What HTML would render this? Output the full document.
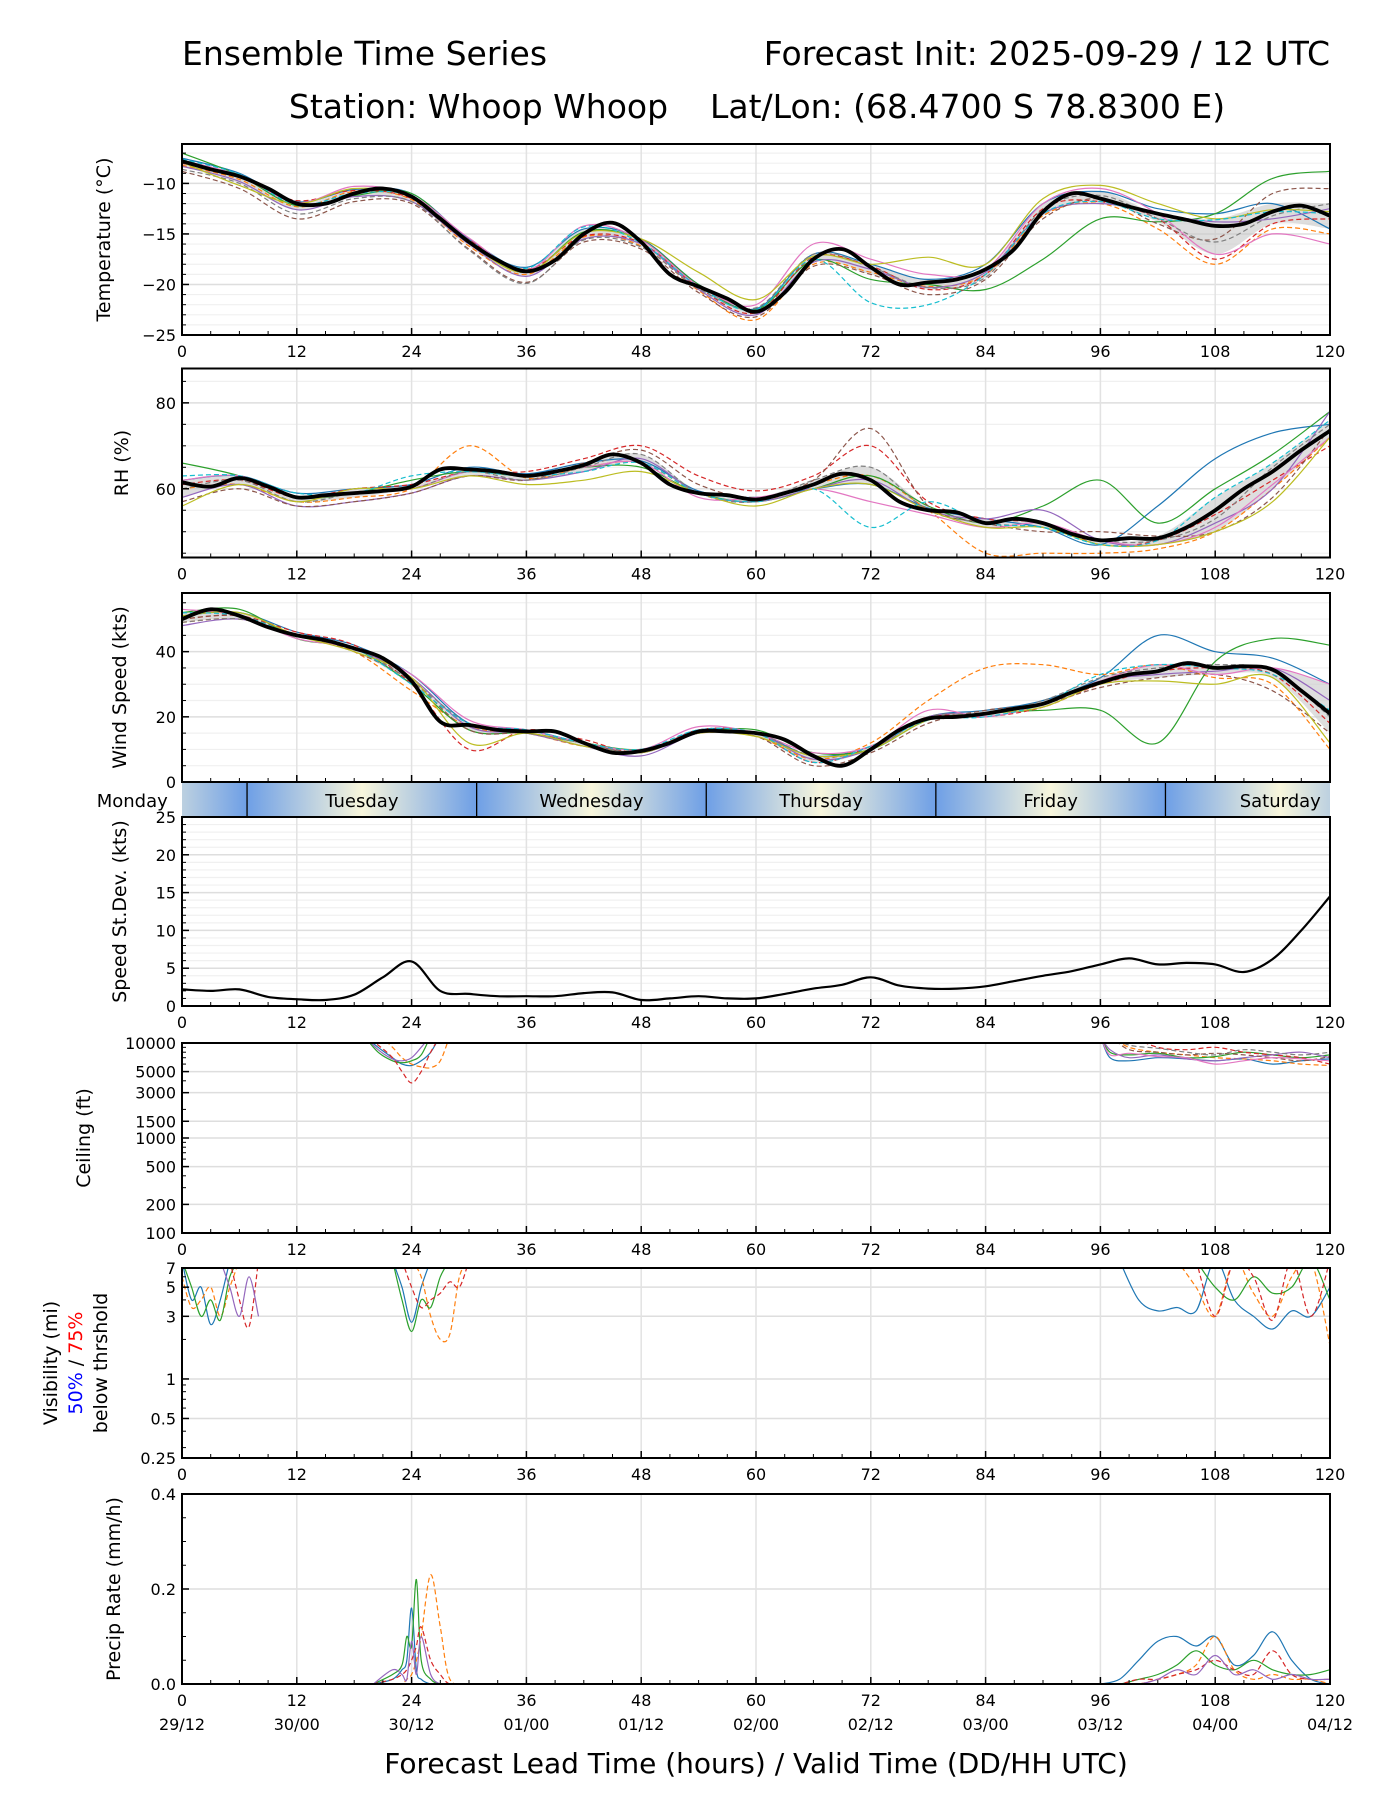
<!DOCTYPE html>
<html><head><meta charset="utf-8"><title>Ensemble Time Series</title>
<style>
html,body{margin:0;padding:0;background:#fff;}
svg{display:block;font-family:"DejaVu Sans","Liberation Sans",sans-serif;}
</style></head>
<body>
<svg id="chart" width="1400" height="1800" viewBox="0 0 1400 1800" xmlns="http://www.w3.org/2000/svg">
<defs>
<linearGradient id="dayGrad" x1="0" x2="1" y1="0" y2="0">
<stop offset="0" stop-color="#6e9fe6"/><stop offset="0.5" stop-color="#f8f6dc"/><stop offset="1" stop-color="#6e9fe6"/>
</linearGradient>
</defs>
<text x="182" y="65" font-size="33">Ensemble Time Series</text>
<text x="1330" y="65" font-size="33" text-anchor="end">Forecast Init: 2025-09-29 / 12 UTC</text>
<text x="757" y="118" font-size="33" text-anchor="middle">Station: Whoop Whoop&#160;&#160;&#160; Lat/Lon: (68.4700 S 78.8300 E)</text>
<g id="root"></g>
</svg>
<script>
// ---------------- data ----------------
const hours3 = [0,3,6,9,12,15,18,21,24,27,30,33,36,39,42,45,48,51,54,57,60,63,66,69,72,75,78,81,84,87,90,93,96,99,102,105,108,111,114,117,120];
const hours6 = [0,6,12,18,24,30,36,42,48,54,60,66,72,78,84,90,96,102,108,114,120];
const xTicks = [0,12,24,36,48,60,72,84,96,108,120];
const dateLabels = ["29/12","30/00","30/12","01/00","01/12","02/00","02/12","03/00","03/12","04/00","04/12"];
const memberColors = ["#1f77b4","#ff7f0e","#2ca02c","#d62728","#9467bd","#8c564b","#e377c2","#7f7f7f","#bcbd22","#17becf"];

const tempMean = [-7.8,-8.6,-9.3,-10.5,-12.0,-12.0,-11.0,-10.5,-11.3,-13.5,-15.8,-17.6,-18.7,-17.6,-15.0,-13.9,-15.8,-19.0,-20.2,-21.4,-22.7,-20.8,-17.5,-16.5,-18.3,-20.0,-19.8,-19.5,-18.5,-16.5,-12.8,-11.0,-11.5,-12.3,-13.0,-13.6,-14.2,-14.0,-12.8,-12.2,-13.2];
const tempM1 = [-7.5,-9.0,-11.8,-10.6,-11.0,-15.5,-18.3,-14.5,-15.5,-20.0,-22.4,-17.0,-18.0,-19.5,-18.0,-12.0,-10.8,-12.5,-13.0,-12.0,-14.5];
const tempM2 = [-8.2,-9.6,-12.3,-10.8,-11.6,-16.2,-19.0,-15.3,-16.2,-20.6,-23.5,-18.0,-18.8,-20.2,-19.0,-13.2,-12.0,-14.5,-18.0,-14.5,-15.0];
const tempM3 = [-7.0,-9.2,-12.2,-11.2,-11.0,-15.8,-18.8,-14.8,-15.6,-20.0,-22.5,-17.6,-19.5,-20.0,-20.5,-17.5,-13.5,-13.8,-13.0,-9.5,-8.8];
const tempM4 = [-8.0,-9.4,-11.7,-10.7,-11.5,-15.6,-18.5,-15.2,-15.9,-20.3,-22.8,-17.3,-18.2,-20.5,-19.0,-12.5,-11.8,-13.5,-17.5,-14.0,-13.5];
const tempM5 = [-8.3,-9.8,-12.6,-11.3,-11.8,-16.0,-19.2,-15.5,-16.0,-20.5,-23.0,-17.8,-18.5,-20.3,-18.8,-13.0,-12.0,-13.0,-13.8,-13.5,-12.5];
const tempM6 = [-8.8,-10.5,-13.5,-11.8,-12.0,-16.5,-19.8,-15.8,-16.5,-20.8,-23.2,-18.2,-19.0,-21.0,-19.5,-13.5,-11.5,-14.0,-15.5,-11.0,-10.5];
const tempM7 = [-7.7,-9.2,-11.9,-10.3,-11.2,-15.4,-18.6,-14.2,-15.6,-20.1,-22.0,-16.0,-17.5,-19.0,-18.5,-12.0,-10.5,-13.0,-17.0,-15.0,-16.0];
const tempM8 = [-8.6,-10.0,-13.0,-11.5,-11.8,-16.6,-19.9,-15.6,-16.3,-20.4,-22.3,-17.0,-18.3,-20.3,-19.3,-12.6,-11.2,-13.5,-15.8,-13.2,-12.0];
const tempM9 = [-7.9,-10.2,-12.0,-10.5,-11.4,-15.9,-18.8,-14.9,-15.5,-18.8,-21.5,-17.2,-18.0,-17.3,-18.0,-11.5,-10.2,-12.0,-13.5,-12.6,-12.8];
const tempM10 = [-7.6,-9.1,-12.1,-11.0,-11.3,-15.7,-18.4,-14.3,-15.9,-20.2,-22.5,-17.5,-21.8,-22.0,-19.0,-13.0,-11.8,-13.5,-13.6,-12.8,-13.0];

const rhMean = [61.5,60.5,62.5,60.5,58,58.5,59,59.5,60.5,64.5,64.5,64,63,64,65.5,68,66,61,59,58.5,57.5,59,61,63.5,62,57,55,54.5,52,53,52,49.5,48,48.5,48.5,51,55,60,64,69,73.5];
const rhM1 = [62,63,59,60,61,65,63.5,66,66.5,59.5,58,60,61,55.5,53,51,47,56,67,73,75];
const rhM2 = [60,61,57,58,60,70,62.5,65,66,59,57,61,63,55,45,45,45,46,50,60,72];
const rhM3 = [66,63,58,59,62,64,63,65,65,59,57,60,63,56,52,56,62,52,60,68,78];
const rhM4 = [61,62,58,60,61,64,64,67,70,63,59.5,63,70,57,53,52,47,48,54,62,70];
const rhM5 = [58,61,56,57,59,63,62,64,67,59,57,60,62,55,53,55,48,47,52,60,78];
const rhM6 = [57,60,56,57,59,63,62,66,69,61,58,62,74,56,52,50,50,49,50,58,74];
const rhM7 = [62,63,58,59,60,64,63,65,66,58,58,60,57,54,51,52,48,47,51,61,72];
const rhM8 = [60,62,57,59,60,64,62,65,68,59,57,62,65,55,52,51,48,48,53,65,75];
const rhM9 = [56,61,57,60,60,63,61,62,64,59,56,60,61,55,51,51,47,47,50,57,72];
const rhM10 = [63,63,59,59,63,64,63,64,66,59,57,60,51,57,52,51,47,48,58,66,76];

const windMean = [50,53,51,47.5,45,43.5,41,38,31,18.5,17.5,16,15.5,15.5,12,9,9.5,12,15.5,15.5,15,13,8,5,10,16,19.5,20,21,22.5,24,27.5,30.5,33,34,36.5,35,35.5,34.5,28,21];
const windM1 = [51,52,46,42,33,18,16,12,9,16,15,8,11,20,22,25,32,45,40,38,30];
const windM2 = [49,50,45,40,28,17,15,11,10,15,14,7,12,25,35,36,33,36,32,30,10];
const windM3 = [52,53,44,41,30,16,15,12,10,15,16,9,10,19,21,22,22,12,37,44,42];
const windM4 = [50,51,46,42,30,10,16,13,9,16,15,6,11,20,20,23,30,34,35,33,18];
const windM5 = [48,50,45,41,32,17,15,11,8,15,15,7,10,20,21,24,31,33,34,35,25];
const windM6 = [50,51,45,40,31,16,15,12,9,15,14,5,9,18,22,24,29,32,33,28,15];
const windM7 = [53,51,44,41,33,19,16,12,10,17,15,9,11,22,20,24,31,36,33,35,30];
const windM8 = [49,50,45,41,31,18,15,12,9,15,15,8,10,20,21,25,32,35,36,34,20];
const windM9 = [51,52,45,40,32,12,15,11,9,15,14,8,10,19,21,23,30,31,30,32,12];
const windM10 = [52,51,45,41,30,18,16,12,10,16,15,6,11,19,20,24,33,36,35,33,22];

const sdValues = [2.2,2,2.2,1.2,0.9,0.8,1.5,3.8,5.9,2,1.6,1.3,1.3,1.3,1.7,1.8,0.8,1,1.3,1,1,1.6,2.3,2.8,3.8,2.7,2.3,2.3,2.6,3.3,4,4.6,5.5,6.3,5.5,5.7,5.5,4.5,6.2,10,14.5];

const ceilHoursA = [19,20.5,22,23,24,25,26,27,28];
const ceilA1 = [12000,9000,7000,6000,5800,6500,8000,12000,null];
const ceilA2 = [12000,12000,9000,7000,6000,5600,5500,6500,12000];
const ceilA3 = [12000,8000,6500,6200,6500,7500,12000,null,null];
const ceilA4 = [12000,9500,7000,5000,3800,5000,8000,12000,null];
const ceilA5 = [12000,8500,6800,6500,7000,9000,12000,null,null];
const ceilHoursB = [96,97,99,102,105,108,111,114,117,120];
const ceilB1 = [12000,7000,6500,7000,6800,6500,6800,6000,6500,6800];
const ceilB2 = [null,12000,9000,8000,7500,7000,6800,6500,6000,5800];
const ceilB3 = [12000,8000,7500,7800,7000,7200,8000,7500,7000,7500];
const ceilB4 = [null,null,12000,9000,8500,9000,8000,7500,7000,6000];
const ceilB5 = [12000,8500,7000,7500,6800,6500,7000,7500,8000,7000];
const ceilB6 = [null,12000,8500,8000,7500,7800,7500,7000,6500,7200];
const ceilB7 = [12000,7500,7800,7200,7000,6000,6500,7000,6800,6500];
const ceilB8 = [null,12000,9500,8800,8000,7500,8500,8000,7500,8000];

const visHoursA = [0,1,2,3,4,5,6,7,8];
const visA1 = [8,4,5,2.6,4,8,null,null,null];
const visA2 = [6,3.5,4,5,3,5,8,null,null];
const visA3 = [8,5,3,4,2.8,6,8,null,null];
const visA4 = [null,null,null,null,null,8,4,2.5,8];
const visA5 = [null,null,null,null,8,5,3,6,3];
const visHoursB = [22,23,24,25,26,27,28,29,30];
const visB1 = [8,5,2.7,5,8,null,null,null,null];
const visB2 = [null,null,8,6,3,2,2.2,6,8];
const visB3 = [8,4,2.3,4,3.5,6,8,null,null];
const visB4 = [null,8,5,3.5,4,4.5,5.5,5,8];
const visHoursC = [98,100,102,104,106,108,110,112,114,116,118,120];
const visC1 = [8,4,3.3,3.5,3.3,8,4,3,2.4,3.3,3,5];
const visC2 = [null,null,null,8,5,3,8,4.5,3,6,8,1.8];
const visC3 = [null,null,null,null,8,5,4,6,4.5,5,8,4];
const visC4 = [null,null,null,null,8,3,8,6,2.8,8,3,8];

const precipHoursA = [20,22,23,23.5,24,24.5,25,26,27,28,30];
const precipA1 = [0,0.01,0.03,0.05,0.16,0.03,0.01,0,0,0,0];
const precipA2 = [0,0,0,0.01,0.02,0.05,0.1,0.23,0.12,0.01,0];
const precipA3 = [0,0.02,0.04,0.1,0.08,0.22,0.05,0.01,0,0,0];
const precipA4 = [0,0.01,0.02,0.03,0.05,0.08,0.12,0.05,0.02,0,0];
const precipA5 = [0,0.03,0.02,0.01,0.09,0.02,0.1,0.02,0,0,0];
const precipHoursB = [96,98,100,102,104,106,108,110,112,114,116,118,120];
const precipB1 = [0,0.01,0.05,0.09,0.1,0.08,0.1,0.04,0.06,0.11,0.05,0.01,0];
const precipB2 = [0,0,0,0.01,0.02,0.04,0.1,0.03,0.01,0.02,0.01,0.01,0];
const precipB3 = [0,0,0.01,0.02,0.04,0.07,0.04,0.03,0.05,0.03,0.02,0.02,0.03];
const precipB4 = [0,0,0.01,0.01,0.02,0.03,0.05,0.03,0.02,0.07,0.02,0.01,0.01];
const precipB5 = [0,0,0,0.01,0.03,0.02,0.06,0.02,0.03,0.01,0.02,0.01,0.01];

const dayNames = ["Monday","Tuesday","Wednesday","Thursday","Friday","Saturday"];
const dayBoundaries = [6.8,30.8,54.8,78.8,102.8];

// ---------------- layout ----------------
const NS = "http://www.w3.org/2000/svg";
const root = document.getElementById('root');
const X0 = 182, X1 = 1330;
function xPos(h){ return X0 + h/120*(X1-X0); }
function mk(tag, attrs, parent){
  const e = document.createElementNS(NS, tag);
  for (const k in attrs) e.setAttribute(k, attrs[k]);
  (parent||root).appendChild(e);
  return e;
}
function linScale(lo, hi, top, h){ return v => top + h - (v-lo)/(hi-lo)*h; }
function logScale(lo, hi, top, h){ return v => top + h - (Math.log(v)-Math.log(lo))/(Math.log(hi)-Math.log(lo))*h; }

function smoothPath(xs, ys){
  let d = "", seg = [];
  const flush = () => {
    if (seg.length === 1) d += `M${seg[0][0]},${seg[0][1]}`;
    if (seg.length > 1){
      d += `M${seg[0][0].toFixed(1)},${seg[0][1].toFixed(1)}`;
      for (let i=0;i<seg.length-1;i++){
        const p0 = seg[Math.max(0,i-1)], p1 = seg[i], p2 = seg[i+1], p3 = seg[Math.min(seg.length-1,i+2)];
        const c1x = p1[0]+(p2[0]-p0[0])/6, c1y = p1[1]+(p2[1]-p0[1])/6;
        const c2x = p2[0]-(p3[0]-p1[0])/6, c2y = p2[1]-(p3[1]-p1[1])/6;
        d += `C${c1x.toFixed(1)},${c1y.toFixed(1)} ${c2x.toFixed(1)},${c2y.toFixed(1)} ${p2[0].toFixed(1)},${p2[1].toFixed(1)}`;
      }
    }
    seg = [];
  };
  for (let i=0;i<xs.length;i++){
    if (ys[i] === null || ys[i] === undefined) { flush(); continue; }
    seg.push([xs[i], ys[i]]);
  }
  flush();
  return d;
}

function makeAxes(id, top, h, yTicks, yFn, labels, minorY, clipId){
  const g = mk('g', {}); 
  
  
  const cp = mk('clipPath', {id: clipId}, g);
  mk('rect', {x:X0, y:top, width:X1-X0, height:h}, cp);
  (minorY||[]).forEach(v => { const y=yFn(v); mk('line',{x1:X0,x2:X1,y1:y,y2:y,stroke:'#f0f0f0','stroke-width':1.2}, g); });
  yTicks.forEach(v => { const y=yFn(v); mk('line',{x1:X0,x2:X1,y1:y,y2:y,stroke:'#dedede','stroke-width':1.5}, g); });
  xTicks.forEach(t => { const x=xPos(t); mk('line',{x1:x,x2:x,y1:top,y2:top+h,stroke:'#e2e2e2','stroke-width':1.5}, g); });
  return g;
}
function finishAxes(g, id, top, h, yTicks, yFn, labels, minorY, noXLabels){
  mk('rect',{x:X0,y:top,width:X1-X0,height:h,fill:'none',stroke:'#000','stroke-width':2}, g);
  for (let t=0;t<=120;t+=3){
    const x=xPos(t), major = t%12===0;
    mk('line',{x1:x,x2:x,y1:top+h,y2:top+h-(major?7:4),stroke:'#000','stroke-width':major?1.5:1}, g);
  }
  if (!noXLabels) xTicks.forEach(t => {
    const tx = mk('text',{x:xPos(t), y:top+h+22, 'font-size':16, 'text-anchor':'middle'}, g);
    tx.textContent = t;
    
    
  });
  (minorY||[]).forEach(v => { const y=yFn(v); mk('line',{x1:X0,x2:X0+4,y1:y,y2:y,stroke:'#000','stroke-width':1}, g); });
  yTicks.forEach((v,i) => {
    const y=yFn(v);
    mk('line',{x1:X0,x2:X0+7,y1:y,y2:y,stroke:'#000','stroke-width':1.5}, g);
    const tx = mk('text',{x:X0-6, y:y+6, 'font-size':16, 'text-anchor':'end'}, g);
    tx.textContent = labels[i];
    
    
  });
}
function yTitle(text, x, cy, name, parent){
  const t = mk('text',{x:x, y:cy, 'font-size':19, 'text-anchor':'middle', transform:`rotate(-90 ${x} ${cy})`}, parent);
  t.textContent = text;
  
  
  return t;
}
function drawMembers(g, clipId, xsHours, members, yFn, name, widthPx){
  const mg = mk('g',{'clip-path':`url(#${clipId})`}, g);
  members.forEach((vals, i) => {
    const ys = vals.map(v => v===null ? null : yFn(v));
    const p = mk('path',{d:smoothPath(xsHours.map(xPos), ys), fill:'none', stroke:memberColors[i%10], 'stroke-width':widthPx||1.2, 'stroke-dasharray': i%2===1 ? '5,3' : 'none'}, mg);
    
    
  });
  return mg;
}
function drawBand(g, clipId, members, yFn, name){
  const lo = [], hi = [];
  hours6.forEach((h, j) => {
    const col = members.map(m => m[j]).sort((a,b)=>a-b);
    lo.push(col[2]); hi.push(col[col.length-3]);
  });
  const xs = hours6.map(xPos);
  const up = smoothPath(xs, hi.map(yFn));
  const rev = smoothPath(xs.slice().reverse(), lo.slice().reverse().map(yFn)).replace(/^M/, 'L');
  const p = mk('path',{d: up + rev + 'Z', fill:'#c8c8c8', 'fill-opacity':0.6, stroke:'none', 'clip-path':`url(#${clipId})`}, g);
  
  
}
function drawMean(g, clipId, vals, yFn, name){
  const p = mk('path',{d:smoothPath(hours3.map(xPos), vals.map(yFn)), fill:'none', stroke:'#000', 'stroke-width':3.8, 'clip-path':`url(#${clipId})`}, g);
  
  
}
function range(a,b,s){ const r=[]; for(let v=a; v<=b+1e-9; v+=s) r.push(+v.toFixed(3)); return r; }

// ---- Temperature ----
{
  const top=144, h=191, yF = linScale(-25, -6.1, top, h);
  const ticks=[-10,-15,-20,-25];
  const g = makeAxes('temperature', top, h, ticks, yF, ticks.map(String), range(-25,-7,1), 'clipT');
  const mem=[tempM1,tempM2,tempM3,tempM4,tempM5,tempM6,tempM7,tempM8,tempM9,tempM10];
  drawBand(g,'clipT',mem,yF,'temperature');
  drawMembers(g,'clipT',hours6,mem,yF,'temperature');
  drawMean(g,'clipT',tempMean,yF,'temperature');
  finishAxes(g,'temperature',top,h,ticks,yF,ticks.map(v=>'\u2212'+Math.abs(v)),range(-25,-7,1));
  yTitle('Temperature (°C)', 110, top+h/2, 'temperature-y-axis-title', g);
}
// ---- RH ----
{
  const top=368.5, h=189, yF = linScale(44, 88, top, h);
  const ticks=[60,80];
  const g = makeAxes('rh', top, h, ticks, yF, ticks.map(String), [45,50,55,65,70,75,85], 'clipR');
  const mem=[rhM1,rhM2,rhM3,rhM4,rhM5,rhM6,rhM7,rhM8,rhM9,rhM10];
  drawBand(g,'clipR',mem,yF,'rh');
  drawMembers(g,'clipR',hours6,mem,yF,'rh');
  drawMean(g,'clipR',rhMean,yF,'rh');
  finishAxes(g,'rh',top,h,ticks,yF,ticks.map(String),[45,50,55,65,70,75,85]);
  yTitle('RH (%)', 128, top+h/2, 'rh-y-axis-title', g);
}
// ---- Wind ----
{
  const top=593, h=189, yF = linScale(0, 58, top, h);
  const ticks=[0,20,40];
  const g = makeAxes('wind', top, h, ticks, yF, ticks.map(String), [5,10,15,25,30,35,45,50,55], 'clipW');
  const mem=[windM1,windM2,windM3,windM4,windM5,windM6,windM7,windM8,windM9,windM10];
  drawBand(g,'clipW',mem,yF,'wind');
  drawMembers(g,'clipW',hours6,mem,yF,'wind');
  drawMean(g,'clipW',windMean,yF,'wind');
  finishAxes(g,'wind',top,h,ticks,yF,ticks.map(String),[5,10,15,25,30,35,45,50,55],true);
  yTitle('Wind Speed (kts)', 126, top+h/2, 'wind-y-axis-title', g);
}
// ---- Day band ----
{
  const g = mk('g',{});
  
  
  const top=783, h=34;
  const cp = mk('clipPath',{id:'clipD'}, g); mk('rect',{x:X0,y:top,width:X1-X0,height:h}, cp);
  const bg = mk('g',{'clip-path':'url(#clipD)'}, g);
  [-17.2].concat(dayBoundaries).forEach(b => {
    mk('rect',{x:xPos(b), y:top, width:xPos(b+24)-xPos(b), height:h, fill:'url(#dayGrad)'}, bg);
  });
  dayBoundaries.forEach(b => { mk('line',{x1:xPos(b),x2:xPos(b),y1:top,y2:top+h,stroke:'#000','stroke-width':1.3}, g); });
  dayNames.forEach((n,i) => {
    const c = i===0 ? dayBoundaries[0]-12 : dayBoundaries[i-1]+12;
    const t = mk('text',{x:xPos(c), y:top+24, 'font-size':18, 'text-anchor':'middle'}, g);
    t.textContent = n;
    
    
  });
}
// ---- StDev ----
{
  const top=817, h=189, yF = linScale(0, 25, top, h);
  const ticks=[0,5,10,15,20,25];
  const g = makeAxes('stdev', top, h, ticks, yF, ticks.map(String), range(1,24,1), 'clipS');
  const p = mk('path',{d:smoothPath(hours3.map(xPos), sdValues.map(yF)), fill:'none', stroke:'#000','stroke-width':2.2,'clip-path':'url(#clipS)'}, g);
  
  
  finishAxes(g,'stdev',top,h,ticks,yF,ticks.map(String),range(1,24,1));
  yTitle('Speed St.Dev. (kts)', 126, top+h/2, 'stdev-y-axis-title', g);
}
// ---- Ceiling ----
{
  const top=1043, h=190, yF = logScale(100, 10000, top, h);
  const ticks=[10000,5000,3000,1500,1000,500,200,100];
  const minor=[300,400,600,700,800,900,2000,4000,6000,7000,8000,9000];
  const g = makeAxes('ceiling', top, h, ticks, yF, ticks.map(String), [], 'clipC');
  drawMembers(g,'clipC',ceilHoursA,[ceilA1,ceilA2,ceilA3,ceilA4,ceilA5],yF,'ceiling');
  drawMembers(g,'clipC',ceilHoursB,[ceilB1,ceilB2,ceilB3,ceilB4,ceilB5,ceilB6,ceilB7,ceilB8],yF,'ceiling');
  finishAxes(g,'ceiling',top,h,ticks,yF,ticks.map(String),minor);
  yTitle('Ceiling (ft)', 90, top+h/2, 'ceiling-y-axis-title', g);
}
// ---- Visibility ----
{
  const top=1268, h=190, yF = logScale(0.25, 7, top, h);
  const ticks=[7,5,3,1,0.5,0.25];
  const minor=[0.3,0.4,0.6,0.7,0.8,0.9,2,4,6];
  const g = makeAxes('visibility', top, h, ticks, yF, ticks.map(String), [], 'clipV');
  drawMembers(g,'clipV',visHoursA,[visA1,visA2,visA3,visA4,visA5],yF,'visibility');
  drawMembers(g,'clipV',visHoursB,[visB1,visB2,visB3,visB4],yF,'visibility');
  drawMembers(g,'clipV',visHoursC,[visC1,visC2,visC3,visC4],yF,'visibility');
  finishAxes(g,'visibility',top,h,ticks,yF,ticks.map(String),minor);
  const cy = top+h/2;
  yTitle('Visibility (mi)', 57, cy, 'visibility-y-axis-title', g);
  const t2 = mk('text',{x:82, y:cy, 'font-size':19, 'text-anchor':'middle', transform:`rotate(-90 82 ${cy})`}, g);
  
  
  const s1 = mk('tspan',{fill:'#0000ff'}, t2); s1.textContent='50%';
  const s2 = mk('tspan',{fill:'#000'}, t2); s2.textContent=' / ';
  const s3 = mk('tspan',{fill:'#ff0000'}, t2); s3.textContent='75%';
  yTitle('below thrshold', 107, cy, 'visibility-threshold-subtitle', g);
}
// ---- Precip ----
{
  const top=1494, h=190, yF = linScale(0, 0.4, top, h);
  const ticks=[0,0.2,0.4];
  const minor=[0.05,0.1,0.15,0.25,0.3,0.35];
  const g = makeAxes('precip', top, h, ticks, yF, ['0.0','0.2','0.4'], [], 'clipP');
  drawMembers(g,'clipP',precipHoursA,[precipA1,precipA2,precipA3,precipA4,precipA5],yF,'precip');
  drawMembers(g,'clipP',precipHoursB,[precipB1,precipB2,precipB3,precipB4,precipB5],yF,'precip');
  finishAxes(g,'precip',top,h,ticks,yF,['0.0','0.2','0.4'],minor);
  yTitle('Precip Rate (mm/h)', 120, top+h/2, 'precip-y-axis-title', g);
  xTicks.forEach((t,i) => {
    const tx = mk('text',{x:xPos(t), y:top+h+46, 'font-size':16, 'text-anchor':'middle'}, g);
    tx.textContent = dateLabels[i];
    
    
  });
  const xt = mk('text',{x:(X0+X1)/2, y:1773, 'font-size':28, 'text-anchor':'middle'}, g);
  xt.textContent = 'Forecast Lead Time (hours) / Valid Time (DD/HH UTC)';
  
  
}
</script>
</body></html>
